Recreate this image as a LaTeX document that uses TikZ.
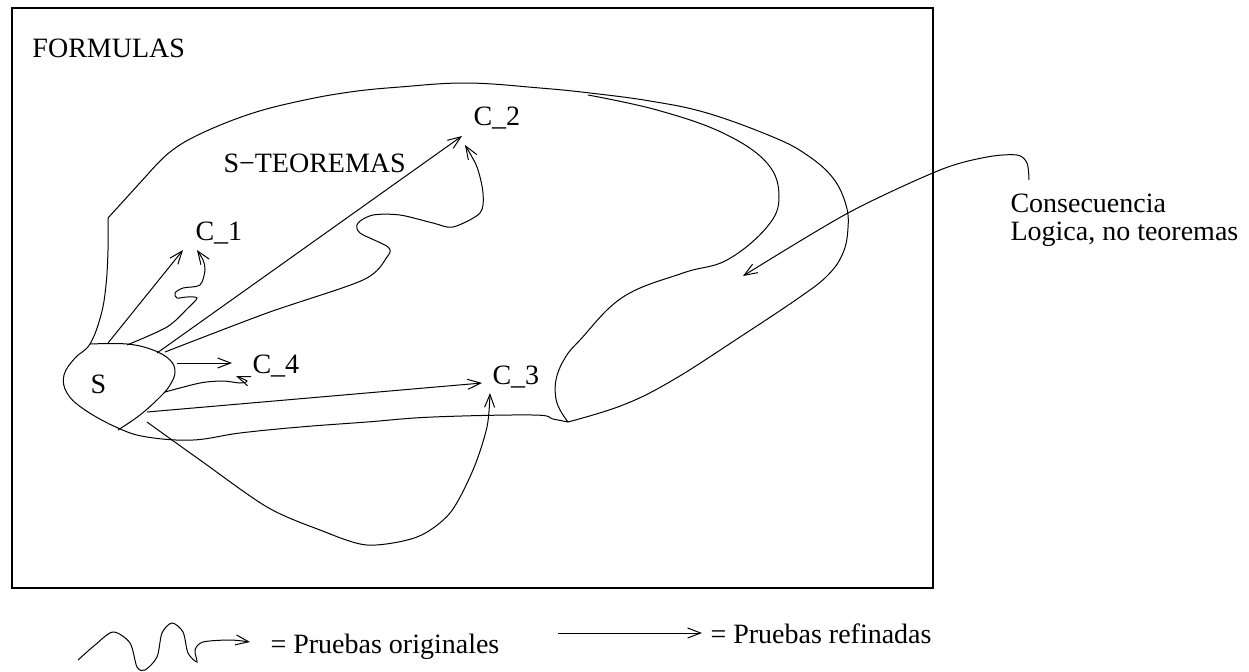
\documentclass[tikz,border=0pt]{standalone}
\usepackage{fontspec}
\setmainfont{Liberation Serif}
\usetikzlibrary{arrows.meta}
\tikzset{
  txt/.style={font=\fontsize{14}{16}\selectfont, inner sep=0pt, anchor=base west},
  prueba/.style={-{Straight Barb[length=6.5pt,width=5pt]}}
}
\begin{document}
\begin{tikzpicture}[x=0.5pt,y=-0.5pt,line width=0.5pt]
        \useasboundingbox (0,0) rectangle (1249,671);
        \draw[line width=0.6pt] (12,8) rectangle (933,588);
        \node[txt] (formulas) at (32,57) {FORMULAS};
        \node[txt] (steoremas) at (223,172) {S−TEOREMAS};
        \node[txt] (s) at (90,393) {S};
        \node[txt] (c1) at (195,240) {C\_1};
        \node[txt] (c2) at (473,125) {C\_2};
        \node[txt] (c3) at (492,384) {C\_3};
        \node[txt] (c4) at (252,373) {C\_4};
        \node[txt] (consec) at (1010,212) {Consecuencia};
        \node[txt] (logica) at (1010,240) {Logica, no teoremas};
        \node[txt] (legorig) at (270,653) {= Pruebas originales};
        \node[txt] (legref) at (710,643) {= Pruebas refinadas};
        \draw (108,218) -- (148,174) -- plot[smooth,tension=0.65] coordinates {(148,174) (170,152) (200,134) (250,114) (300,101) (350,92) (400,87) (467,83) (540,88) (590,93) (650,101) (707,113) (773,137) (807,155) (833,178) (846,205) (848,228) (843,253) (828,275) (800,297) (740,337) (673,380) (623,405) (568,422)}
              -- plot[smooth,tension=0.65] coordinates {(568,422) (553,419) (533,415) (433,417) (367,422) (300,427) (240,433) (193,440) (147,437) (118,428) (85,410) (67,393) (64,375) (75,358) (90,344) (101,315) (106,285) (108,250) (108,218)};
        \draw plot[smooth,tension=0.65] coordinates {(568,422) (557,403) (556,380) (565,358) (580,340) (623,297) (683,273) (727,260) (767,227) (779,197) (767,163) (723,133) (657,110) (588,95)};
        \draw plot[smooth,tension=0.65] coordinates {(90,344) (127,344) (153,350) (170,360) (175,372) (170,385) (160,397) (140,415) (118,430)};
        \coordinate (t1) at (183,250);
        \coordinate (u1) at (197,250);
        \coordinate (t2) at (462,136);
        \coordinate (u2) at (465,145);
        \coordinate (t3) at (482,383);
        \coordinate (u3) at (490,393);
        \coordinate (t4) at (232,363);
        \coordinate (u4) at (236,376);
        \draw[prueba] (108,343) -- (t1);
        \draw[prueba] (157,353) -- (t2);
        \draw[prueba] (147,412) -- (t3);
        \draw[prueba] (177,363) -- (t4);
        \draw[prueba] plot[smooth] coordinates {(127,345) (167,327) (188,308) (197,298) (187,297) (177,298) (175,293) (183,288) (200,285) (205,270) (203,260) (u1)};
        \draw[prueba] plot[smooth] coordinates {(165,352) (267,313) (363,280) (387,257) (388,247) (360,233) (358,223) (373,215) (400,215) (433,223) (453,227) (480,213) (483,193) (477,167) (u2)};
        \draw[prueba] plot[smooth] coordinates {(147,422) (200,460) (267,507) (320,530) (367,545) (417,537) (450,513) (473,470) (487,427) (u3)};
        \draw[prueba] plot[smooth] coordinates {(165,392) (200,383) (223,381) (240,383) (247,381) (u4)};
        \draw[prueba] plot[smooth] coordinates {(1029,180) (1027,163) (1017,155) (987,157) (940,170) (848,213) (743,276)};
        \draw[prueba] plot[smooth] coordinates {(78,660) (95,645) (113,632) (130,643) (137,667) (145,670) (157,657) (162,633) (172,623) (183,632) (188,653) (197,662) (195,650) (203,642) (230,640) (250,642)};
        \draw[prueba] (558,633) -- (702,633);
\end{tikzpicture}
\end{document}
